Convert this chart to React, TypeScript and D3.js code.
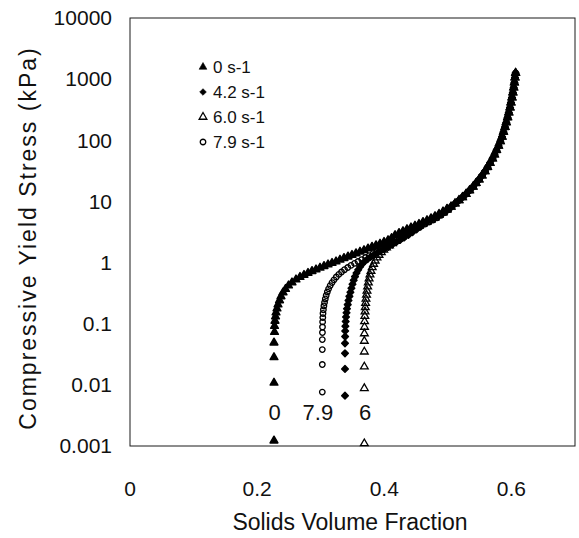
import React from "react";
import * as d3 from "d3";

// Solids volume fraction (phi) and compressive yield stress (kPa) per shear rate.
// Upper branch shared by all shear rates once the curves have converged.
const phiMain = [0.4169,0.4232,0.4294,0.4357,0.4420,0.4483,0.4546,0.4609,0.4672,0.4735,0.4798,0.4861,0.4924,0.4987,0.5050,0.5113,0.5175,0.5230,0.5286,0.5341,0.5396,0.5443,0.5490,0.5537,0.5584,0.5624,0.5663,0.5702,0.5734,0.5765,0.5797,0.5825,0.5852,0.5875,0.5899,0.5919,0.5940,0.5959,0.5978,0.5993,0.6009,0.6023,0.6036,0.6047,0.6056,0.6066];
const stressMain = [2.72,2.90,3.10,3.32,3.54,3.79,4.04,4.32,4.64,5.01,5.44,5.95,6.56,7.29,8.17,9.21,10.4,11.7,13.2,15.1,17.3,19.9,22.8,26.5,31.1,36.3,42.5,50.3,58.5,68.8,81.2,96.2,114,137,164,196,236,284,342,413,499,602,727,878,1060,1260];

// 0 s-1 (upper edge of the band until it joins the shared branch)
const phi0 = [0.2265,0.2265,0.2265,0.2265,0.2273,0.2273,0.2281,0.2289,0.2297,0.2312,0.2328,0.2352,0.2375,0.2407,0.2446,0.2493,0.2548,0.2611,0.2674,0.2737,0.2800,0.2863,0.2926,0.2989,0.3052,0.3115,0.3178,0.3241,0.3303,0.3366,0.3429,0.3492,0.3555,0.3618,0.3681,0.3744,0.3807,0.3870,0.3933,0.3996,0.4059,0.4114,0.4169,0.4232,0.4294,0.4357,0.4420,0.4483,0.4546,0.4609,0.4672,0.4735,0.4798,0.4861,0.4924,0.4987];
const stress0 = [0.00122,0.0108,0.0282,0.0489,0.0731,0.0917,0.111,0.131,0.152,0.177,0.206,0.240,0.279,0.324,0.369,0.421,0.472,0.528,0.580,0.626,0.675,0.722,0.770,0.821,0.872,0.926,0.984,1.04,1.11,1.18,1.25,1.33,1.41,1.50,1.59,1.69,1.80,1.91,2.03,2.17,2.31,2.50,2.80,3.02,3.25,3.49,3.73,4.00,4.27,4.57,4.90,5.28,5.72,6.23,6.84,7.54];

// 4.2 s-1
const phi42 = [0.3382,0.3382,0.3382,0.3382,0.3384,0.3385,0.3388,0.3393,0.3398,0.3406,0.3413,0.3425,0.3437,0.3451,0.3467,0.3483,0.3500,0.3519,0.3539,0.3563,0.3590,0.3620,0.3654,0.3694,0.3738,0.3785,0.3835,0.3889,0.3945,0.4003,0.4063,0.4125,0.4188,0.4250,0.4315,0.4380,0.4444,0.4508,0.4573];
const stress42 = [0.00665,0.0182,0.0328,0.0478,0.0617,0.0760,0.0910,0.109,0.129,0.151,0.176,0.205,0.240,0.280,0.326,0.381,0.443,0.513,0.589,0.673,0.761,0.856,0.954,1.05,1.14,1.24,1.33,1.44,1.55,1.67,1.81,1.97,2.15,2.35,2.58,2.84,3.15,3.49,3.87];

// 6.0 s-1
const phi60 = [0.3686,0.3686,0.3686,0.3686,0.3686,0.3687,0.3689,0.3690,0.3694,0.3697,0.3701,0.3706,0.3712,0.3720,0.3728,0.3738,0.3749,0.3761,0.3775,0.3791,0.3810,0.3832,0.3857,0.3885,0.3917,0.3953,0.3992,0.4035,0.4081,0.4128,0.4177,0.4227,0.4279,0.4332,0.4385,0.4440,0.4495,0.4551];
const stress60 = [0.00110,0.00878,0.0198,0.0348,0.0521,0.0691,0.0883,0.109,0.133,0.158,0.185,0.217,0.254,0.296,0.345,0.403,0.470,0.547,0.633,0.728,0.833,0.947,1.07,1.20,1.33,1.47,1.61,1.75,1.90,2.07,2.24,2.44,2.65,2.88,3.13,3.40,3.69,3.99];

// 7.9 s-1 (lower edge of the band until it joins the shared branch)
const phi79 = [0.3025,0.3025,0.3025,0.3025,0.3027,0.3028,0.3030,0.3033,0.3036,0.3042,0.3050,0.3060,0.3072,0.3086,0.3104,0.3124,0.3149,0.3178,0.3209,0.3245,0.3285,0.3327,0.3374,0.3425,0.3476,0.3532,0.3587,0.3645,0.3705,0.3764,0.3826,0.3887,0.3948,0.4011,0.4074,0.4137,0.4200,0.4263,0.4326,0.4389,0.4452,0.4515,0.4578,0.4641,0.4704,0.4767,0.4830,0.4893,0.4956,0.5019];
const stress79 = [0.00763,0.0215,0.0378,0.0551,0.0718,0.0883,0.107,0.126,0.147,0.169,0.195,0.222,0.254,0.289,0.330,0.372,0.420,0.470,0.522,0.580,0.640,0.701,0.764,0.830,0.899,0.969,1.04,1.12,1.21,1.30,1.41,1.53,1.66,1.81,1.98,2.18,2.40,2.65,2.92,3.21,3.53,3.86,3.98,4.27,4.60,4.97,5.40,5.92,6.55,7.35];

const legendLabels = ["0 s-1", "4.2 s-1", "6.0 s-1", "7.9 s-1"];
const curveLabels = ["0", "7.9", "6"];
const curveLabelPhi = [0.2275, 0.2955, 0.3700];
const yTicks = [0.001, 0.01, 0.1, 1, 10, 100, 1000, 10000];
const yTickLabels = ["0.001", "0.01", "0.1", "1", "10", "100", "1000", "10000"];
const xTicks = [0, 0.2, 0.4, 0.6];
const xTickLabels = ["0", "0.2", "0.4", "0.6"];

type Marker = "triFilled" | "diamond" | "triOpen" | "circleOpen";
const markers: Marker[] = ["triFilled", "diamond", "triOpen", "circleOpen"];

const branches = [
  { phi: phi0, stress: stress0 },
  { phi: phi42, stress: stress42 },
  { phi: phi60, stress: stress60 },
  { phi: phi79, stress: stress79 },
];

const FONT = "'Liberation Sans', Arial, Helvetica, sans-serif";

const W = 579;
const H = 538;
const plot = { left: 130, right: 575, top: 18, bottom: 446 };

const x = d3.scaleLinear().domain([0, 0.7]).range([plot.left, plot.right]);
const y = d3.scaleLog().domain([0.001, 10000]).range([plot.bottom, plot.top]);

const triPath = d3.symbol(d3.symbolTriangle, 26)()!;
const squarePath = d3.symbol(d3.symbolSquare, 22)()!;
const circlePath = d3.symbol(d3.symbolCircle, 24)()!;

// Filled markers get a thin outline of their own colour so that dense runs read as a solid trace.
function MarkerShape({ kind, cx, cy, outline = 1.5 }: { kind: Marker; cx: number; cy: number; outline?: number }) {
  const t = `translate(${cx},${cy})`;
  switch (kind) {
    case "triFilled":
      return <path d={triPath} transform={t} fill="#000" stroke="#000" strokeWidth={outline} strokeLinejoin="round" />;
    case "diamond":
      return (
        <path
          d={squarePath}
          transform={`${t} rotate(45)`}
          fill="#000"
          stroke="#000"
          strokeWidth={outline}
          strokeLinejoin="round"
        />
      );
    case "triOpen":
      return <path d={triPath} transform={t} fill="none" stroke="#000" strokeWidth={1.3} />;
    default:
      return <path d={circlePath} transform={t} fill="none" stroke="#000" strokeWidth={1.3} />;
  }
}

export default function App() {
  const series = branches.map((b, i) => {
    const pts = b.phi.map((p, j) => [p, b.stress[j]] as [number, number]);
    const last = b.phi[b.phi.length - 1];
    phiMain.forEach((p, j) => {
      if (p > last) pts.push([p, stressMain[j]]);
    });
    return { marker: markers[i], pts };
  });

  return (
    <svg
      width={W}
      height={H}
      style={{ position: "absolute", left: 0, top: 0, background: "#fff" }}
      fontFamily={FONT}
    >
      <rect x={0} y={0} width={W} height={H} fill="#fff" />
      <rect
        x={plot.left}
        y={plot.top}
        width={plot.right - plot.left}
        height={plot.bottom - plot.top}
        fill="none"
        stroke="#1a1a1a"
        strokeWidth={1}
      />

      {yTicks.map((v, i) => (
        <text key={`yt${i}`} x={112} y={y(v)} dy="0.35em" textAnchor="end" fontSize={21} fill="#111">
          {yTickLabels[i]}
        </text>
      ))}
      {xTicks.map((v, i) => (
        <text key={`xt${i}`} x={x(v)} y={496} textAnchor="middle" fontSize={21} fill="#111">
          {xTickLabels[i]}
        </text>
      ))}

      <text x={350} y={530} textAnchor="middle" fontSize={23} fill="#111">
        Solids Volume Fraction
      </text>
      <text
        transform="translate(36,238) rotate(-90)"
        textAnchor="middle"
        fontSize={23}
        letterSpacing={2}
        fill="#111"
      >
        Compressive Yield Stress (kPa)
      </text>

      {series.map((s, i) => (
        <g key={`s${i}`}>
          {s.pts.map(([p, v], j) => (
            <MarkerShape key={j} kind={s.marker} cx={x(p)} cy={y(v)} />
          ))}
        </g>
      ))}

      {curveLabels.map((t, i) => (
        <text key={`cl${i}`} x={x(curveLabelPhi[i])} y={420} textAnchor="middle" fontSize={22} fill="#111">
          {t}
        </text>
      ))}

      {legendLabels.map((t, i) => {
        const ly = 67 + i * 25;
        return (
          <g key={`lg${i}`}>
            <MarkerShape kind={markers[i]} cx={203} cy={ly} outline={0.6} />
            <text x={213} y={ly} dy="0.35em" fontSize={17} fill="#111">
              {t}
            </text>
          </g>
        );
      })}
    </svg>
  );
}
